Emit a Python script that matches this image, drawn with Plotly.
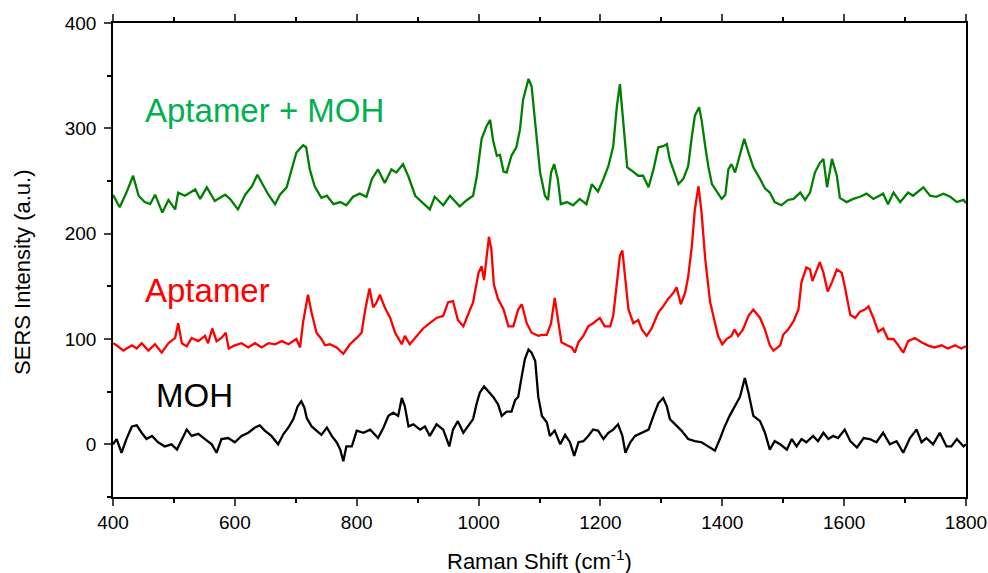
import plotly.graph_objects as go

# ---------------- data ----------------
moh_x = [400, 406, 414, 422, 431, 439, 447, 455, 464, 474, 485, 496, 505, 513, 521, 529, 540, 551, 562, 570,
         578, 589, 600, 611, 622, 633, 641, 649, 660, 671, 680, 688, 696, 703, 709, 714, 718, 726, 734, 742,
         751, 759, 767, 773, 778, 783, 792, 800, 811, 822, 827, 835, 844, 852, 860, 868, 874, 879, 885, 893,
         904, 912, 920, 931, 942, 952, 958, 966, 975, 983, 991, 997, 1002, 1009, 1016, 1024, 1032, 1038, 1046, 1054,
         1060, 1065, 1071, 1076, 1082, 1087, 1093, 1098, 1104, 1112, 1117, 1125, 1134, 1142, 1150, 1157, 1164, 1172, 1180, 1188,
         1196, 1205, 1213, 1221, 1229, 1236, 1241, 1249, 1257, 1268, 1279, 1287, 1295, 1303, 1309, 1314, 1322, 1333, 1344, 1355,
         1366, 1377, 1388, 1396, 1404, 1412, 1421, 1429, 1437, 1443, 1451, 1462, 1470, 1478, 1486, 1495, 1506, 1514, 1522, 1530,
         1538, 1549, 1557, 1566, 1574, 1582, 1590, 1601, 1610, 1621, 1632, 1642, 1653, 1664, 1675, 1686, 1697, 1708, 1719, 1727,
         1735, 1746, 1757, 1768, 1776, 1785, 1796, 1800]
moh_y = [0, 5, -8, 5, 17, 18, 11, 5, 8, 2, -2, 0, -5, 5, 14, 8, 10, 5, 0, -8,
         5, 6, 2, 8, 11, 16, 18, 13, 8, 0, 10, 16, 24, 36, 41, 35, 25, 17, 13, 9,
         16, 8, 2, -5, -16, -2, -2, 13, 11, 14, 11, 6, 16, 27, 30, 27, 44, 36, 17, 19,
         14, 17, 8, 19, 14, -2, 14, 22, 11, 17, 24, 39, 49, 55, 50, 45, 38, 27, 31, 31,
         42, 45, 65, 81, 90, 87, 79, 45, 27, 21, 8, 13, 0, 9, 2, -11, 2, 3, 8, 14,
         13, 5, 11, 14, 19, 8, -8, 2, 8, 11, 14, 27, 39, 44, 36, 24, 19, 13, 5, 3,
         2, -2, -6, 5, 17, 27, 36, 45, 63, 49, 27, 22, 11, -5, 3, 0, -5, 5, -2, 5,
         2, 8, 3, 11, 5, 8, 6, 14, 3, -3, 6, 5, 2, 11, 0, 3, -8, 6, 14, 2,
         6, 0, 11, -2, -2, 5, -2, 0]

apt_x = [400, 406, 417, 431, 439, 447, 458, 469, 480, 491, 502, 507, 513, 521, 529, 540, 551, 556, 563, 570,
         578, 585, 590, 600, 611, 622, 633, 644, 655, 666, 677, 688, 701, 707, 712, 720, 726, 734, 742, 748,
         756, 767, 778, 789, 800, 808, 814, 821, 827, 832, 838, 846, 855, 863, 874, 879, 887, 898, 909, 920,
         931, 942, 950, 958, 966, 975, 983, 991, 1000, 1005, 1009, 1013, 1017, 1021, 1025, 1032, 1041, 1049, 1057, 1065,
         1071, 1079, 1087, 1098, 1104, 1112, 1119, 1125, 1131, 1136, 1145, 1153, 1158, 1164, 1172, 1180, 1188, 1199, 1207, 1216,
         1221, 1227, 1232, 1236, 1240, 1246, 1254, 1262, 1268, 1276, 1284, 1295, 1303, 1311, 1320, 1325, 1332, 1339, 1344, 1350,
         1355, 1361, 1366, 1372, 1380, 1388, 1393, 1400, 1407, 1415, 1420, 1426, 1434, 1443, 1451, 1462, 1470, 1478, 1484, 1495,
         1500, 1508, 1517, 1525, 1530, 1538, 1544, 1548, 1555, 1560, 1566, 1573, 1580, 1588, 1596, 1601, 1610, 1618, 1626, 1634,
         1640, 1648, 1656, 1664, 1672, 1681, 1689, 1697, 1705, 1716, 1727, 1737, 1748, 1760, 1770, 1782, 1792, 1800]
apt_y = [96, 94, 89, 94, 91, 96, 89, 95, 87, 96, 101, 115, 96, 93, 101, 98, 103, 96, 110, 98,
         101, 106, 91, 94, 96, 92, 96, 92, 96, 95, 98, 95, 100, 92, 116, 142, 125, 106, 100, 94,
         95, 92, 86, 95, 101, 106, 128, 148, 130, 134, 142, 130, 120, 106, 95, 103, 95, 103, 110, 115,
         120, 122, 135, 136, 118, 112, 124, 135, 163, 169, 156, 179, 197, 185, 152, 138, 128, 112, 112, 128,
         133, 115, 106, 103, 104, 104, 115, 139, 115, 97, 94, 92, 87, 97, 103, 112, 115, 120, 112, 112,
         122, 154, 179, 184, 159, 128, 115, 118, 109, 103, 110, 125, 131, 138, 144, 149, 133, 144, 159, 188,
         223, 245, 220, 176, 135, 115, 103, 95, 100, 103, 109, 103, 109, 122, 128, 120, 109, 94, 89, 94,
         104, 109, 117, 128, 154, 168, 166, 155, 166, 173, 163, 145, 154, 166, 163, 150, 123, 120, 126, 128,
         131, 120, 107, 110, 100, 100, 94, 87, 98, 101, 97, 94, 92, 94, 91, 94, 91, 93]

aptmoh_x = [400, 411, 422, 433, 442, 452, 461, 469, 481, 491, 502, 507, 518, 535, 543, 554, 567, 584, 592, 605,
            617, 628, 637, 644, 655, 666, 674, 685, 693, 701, 712, 717, 723, 731, 742, 751, 762, 773, 783, 794,
            805, 816, 825, 835, 846, 857, 865, 876, 885, 896, 907, 920, 928, 942, 953, 969, 981, 991, 997, 1005,
            1013, 1019, 1024, 1030, 1035, 1041, 1046, 1054, 1062, 1068, 1073, 1082, 1087, 1093, 1101, 1109, 1114, 1119, 1124, 1130,
            1135, 1145, 1155, 1166, 1177, 1186, 1196, 1205, 1213, 1221, 1227, 1232, 1237, 1244, 1251, 1262, 1270, 1279, 1287, 1295,
            1303, 1309, 1314, 1320, 1328, 1336, 1344, 1350, 1355, 1362, 1366, 1372, 1377, 1383, 1391, 1399, 1405, 1410, 1415, 1421,
            1429, 1436, 1443, 1451, 1462, 1470, 1478, 1486, 1497, 1508, 1517, 1528, 1536, 1544, 1552, 1560, 1566, 1572, 1580, 1588,
            1593, 1604, 1615, 1626, 1637, 1648, 1664, 1672, 1681, 1692, 1705, 1713, 1730, 1741, 1751, 1763, 1774, 1785, 1796, 1800]
aptmoh_y = [237, 225, 239, 255, 236, 230, 228, 237, 220, 232, 223, 239, 236, 242, 233, 244, 231, 237, 233, 223,
            237, 245, 256, 248, 237, 228, 237, 244, 261, 277, 284, 282, 261, 245, 234, 236, 228, 230, 227, 235,
            238, 235, 252, 261, 248, 261, 258, 266, 254, 236, 230, 223, 235, 227, 236, 226, 232, 236, 254, 290,
            302, 308, 288, 274, 275, 259, 258, 274, 282, 299, 327, 347, 340, 305, 258, 236, 232, 258, 266, 252,
            228, 230, 227, 233, 228, 247, 240, 252, 264, 283, 321, 342, 308, 263, 260, 255, 255, 244, 261, 282,
            283, 285, 270, 260, 247, 252, 264, 292, 312, 320, 308, 283, 264, 247, 240, 233, 237, 261, 266, 258,
            275, 290, 277, 263, 252, 243, 239, 230, 227, 232, 233, 239, 232, 239, 258, 267, 271, 244, 271, 255,
            234, 230, 233, 235, 238, 233, 238, 228, 239, 230, 239, 236, 244, 236, 235, 238, 235, 230, 232, 229]

series_names = ["MOH", "Aptamer", "Aptamer + MOH"]
label_x = [467, 449, 449]
label_y = [46, 146, 317]

x_ticks = [400, 600, 800, 1000, 1200, 1400, 1600, 1800]
y_ticks = [0, 100, 200, 300, 400]
x_title = "Raman Shift (cm<sup>-1</sup>)"
y_title = "SERS Intensity (a.u.)"

FONT = "Liberation Sans, Arial, sans-serif"

fig = go.Figure()
fig.add_trace(go.Scatter(x=moh_x, y=moh_y, mode="lines", name=series_names[0],
                         line=dict(color="#000000", width=2.3)))
fig.add_trace(go.Scatter(x=apt_x, y=apt_y, mode="lines", name=series_names[1],
                         line=dict(color="#FF0000", width=2.3)))
fig.add_trace(go.Scatter(x=aptmoh_x, y=aptmoh_y, mode="lines", name=series_names[2],
                         line=dict(color="#008000", width=2.3)))

label_colors = ["#000000", "#FF0000", "#00B050"]
for name, lx, ly, c in zip(series_names, label_x, label_y, label_colors):
    fig.add_annotation(x=lx, y=ly, text=name, showarrow=False, xanchor="left", yanchor="middle",
                       font=dict(family=FONT, size=33, color=c))

# axis titles placed as paper-referenced annotations
fig.add_annotation(x=0.5, y=-0.132, xref="paper", yref="paper", text=x_title, showarrow=False,
                   xanchor="center", yanchor="middle", font=dict(family=FONT, size=22, color="black"))
fig.add_annotation(x=-0.106, y=0.474, xref="paper", yref="paper", text=y_title, showarrow=False,
                   textangle=-90, xanchor="center", yanchor="middle",
                   font=dict(family=FONT, size=22, color="black"))

fig.update_layout(
    width=988, height=573,
    margin=dict(l=113, r=22, t=23, b=76, autoexpand=False),
    paper_bgcolor="white", plot_bgcolor="white",
    showlegend=False,
    font=dict(family=FONT, color="#000000"),
)
fig.update_xaxes(
    range=[400, 1800], tickvals=x_ticks, ticks="outside", ticklen=7, tickwidth=1.5,
    showline=True, linecolor="black", linewidth=1.5, mirror="ticks",
    showgrid=False, zeroline=False, automargin=False,
    tickfont=dict(family=FONT, size=19),
    minor=dict(dtick=100, ticks="outside", ticklen=4, tickwidth=1.5, tickcolor="black", showgrid=False),
)
fig.update_yaxes(
    range=[-50, 400], tickvals=y_ticks, ticks="outside", ticklen=7, tickwidth=1.5,
    showline=True, linecolor="black", linewidth=1.5, mirror=True,
    showgrid=False, zeroline=False, automargin=False, ticklabelstandoff=4,
    tickfont=dict(family=FONT, size=19),
    minor=dict(dtick=50, ticks="outside", ticklen=4, tickwidth=1.5, tickcolor="black", showgrid=False),
)

# remove the default page margin so the figure fills the window exactly
page_fix = ("document.body.style.margin='0';document.body.style.overflow='hidden';"
            "document.documentElement.style.overflow='hidden';")
fig.write_html("out.html", post_script=page_fix, config={"displayModeBar": False})
